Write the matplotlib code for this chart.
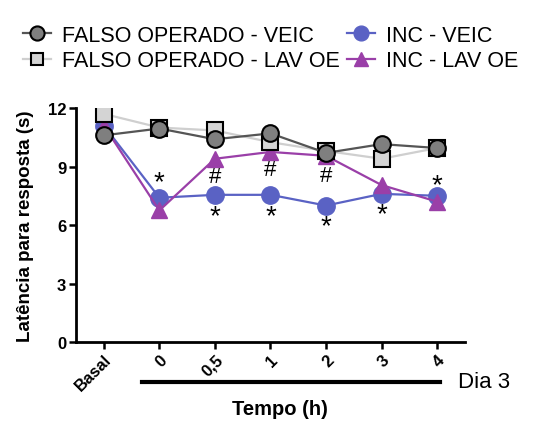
import matplotlib
matplotlib.use("Agg")
import matplotlib.pyplot as plt
import numpy as np

plt.rcParams['font.family'] = ['Liberation Sans', 'DejaVu Sans']

categories = ["Basal", "0", "0,5", "1", "2", "3", "4"]
falso_veic = [10.6, 10.95, 10.4, 10.7, 9.7, 10.15, 9.95]
falso_lav = [11.7, 11.0, 10.85, 10.25, 9.8, 9.4, 9.95]
inc_veic = [11.1, 7.4, 7.55, 7.55, 7.0, 7.6, 7.5]
inc_lav = [11.1, 6.75, 9.4, 9.75, 9.55, 8.05, 7.2]

# annotations: (category index, y, symbol)
ann_x = [1, 2, 3, 4, 2, 3, 4, 5, 6]
ann_y = [8.2, 8.5, 8.85, 8.55, 6.45, 6.45, 5.95, 6.55, 8.05]
ann_s = ["*", "#", "#", "#", "*", "*", "*", "*", "*"]

fig = plt.figure(figsize=(5.47, 4.31), dpi=100)
ax = fig.add_axes([0.139, 0.204, 0.711, 0.543])
x = np.arange(len(categories))

c_gray = "#7f7f7f"
c_light = "#d4d4d4"
c_blue = "#5a62c4"
c_purple = "#9a3fa8"

ax.plot(x, inc_veic, color=c_blue, lw=1.6, marker="o", ms=12.5, mfc=c_blue, mec=c_blue, label="INC - VEIC", zorder=3)
ax.plot(x, inc_lav, color=c_purple, lw=1.6, marker="^", ms=12, mfc=c_purple, mec=c_purple, label="INC - LAV OE", zorder=3)
ax.plot(x, falso_lav, color="#cfcfcf", lw=1.6, marker="s", ms=11, mfc=c_light, mec="black", mew=1.5, label="FALSO OPERADO - LAV OE", zorder=4)
ax.plot(x, falso_veic, color="#555555", lw=1.6, marker="o", ms=12, mfc=c_gray, mec="black", mew=1.5, label="FALSO OPERADO - VEIC", zorder=5)

for xi, yi, s in zip(ann_x, ann_y, ann_s):
    ax.text(xi, yi, s, ha="center", va="center", fontsize=20 if s == "*" else 16, color="black", zorder=6)

ax.set_xlim(-0.5, 6.5)
ax.set_ylim(0, 12)
ax.set_yticks([0, 3, 6, 9, 12])
ax.set_xticks(x)
ax.set_xticklabels(categories, rotation=45, ha="right", rotation_mode="anchor", fontweight="bold", fontsize=12)
for lbl in ax.get_yticklabels():
    lbl.set_fontweight("bold")
    lbl.set_fontsize(12)
ax.spines["top"].set_visible(False)
ax.spines["right"].set_visible(False)
ax.spines["left"].set_linewidth(2)
ax.spines["bottom"].set_linewidth(2)
ax.tick_params(width=1.8, length=5, direction="out", pad=2)
ax.set_ylabel("Latência para resposta (s)", fontweight="bold", fontsize=13.5, labelpad=10)

fig.text(280/547, 1 - 410/431, "Tempo (h)", fontweight="bold", fontsize=14.5, ha="center", va="center")

# Dia 3 bar
fig.add_artist(plt.Line2D([142/547, 440/547], [1 - 383/431, 1 - 383/431], color="black", lw=3, transform=fig.transFigure))
fig.text(458/547, 1 - 383/431, "Dia 3", fontsize=16, va="center", ha="left")

h, l = ax.get_legend_handles_labels()
order = [3, 2, 0, 1]
fig.legend([h[i] for i in order], [l[i] for i in order], ncol=2, loc="upper left",
           bbox_to_anchor=(0.015, 0.975), frameon=False, fontsize=15.5,
           handlelength=1.3, handletextpad=0.5, columnspacing=0.35, labelspacing=0.2,
           markerscale=0.85, borderaxespad=0.3)

fig.savefig("out.png", dpi=100)
